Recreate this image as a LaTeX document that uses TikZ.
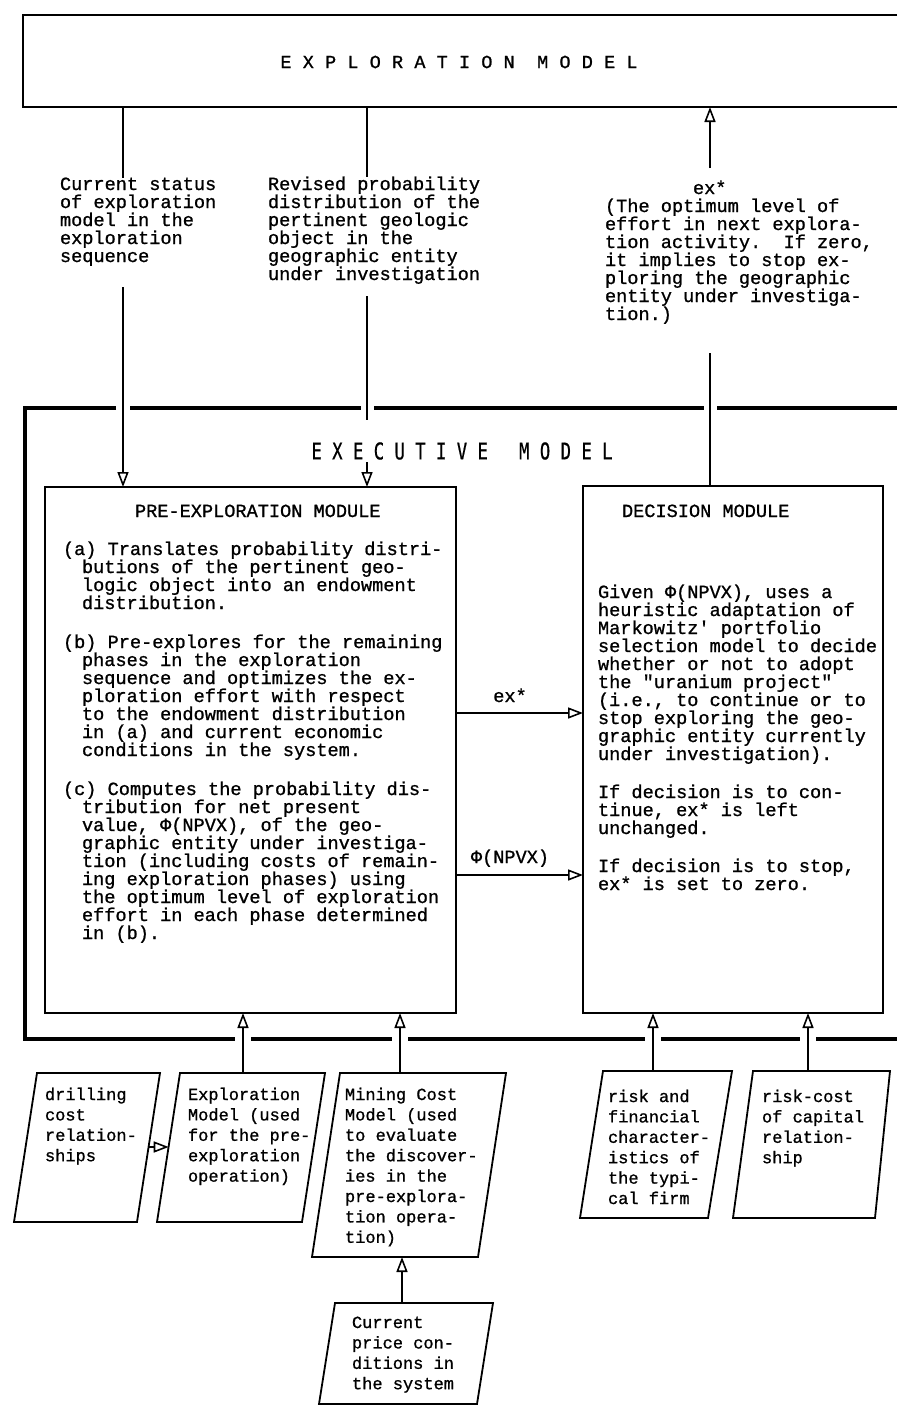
\documentclass[tikz,border=0pt]{standalone}
\usepackage{fontspec}
\usetikzlibrary{arrows.meta}
\newfontfamily\twfam[FakeBold=1.0]{Liberation Mono}
\newfontfamily\gothfam[FakeStretch=0.75,FakeBold=0.6]{DejaVu Sans Mono}
\newcommand\upfont{\twfam\fontsize{18.6pt}{18pt}\selectfont\frenchspacing}
\newcommand\lowfont{\twfam\fontsize{17pt}{20.4pt}\selectfont\frenchspacing}
\newcommand\tblk[2]{\parbox[t]{#1}{\raggedright #2}}
\newcommand\hi{\hspace*{19pt}}
\lineskiplimit=-50pt
\lineskip=0pt
\begin{document}
\begin{tikzpicture}[x=1pt,y=-1pt,
  tx/.style={anchor=base west, inner sep=0pt, outer sep=0pt, font=\upfont},
  lt/.style={anchor=base west, inner sep=0pt, outer sep=0pt, font=\lowfont},
  conn/.style={line width=1.7pt},
  arr/.style={line width=1.7pt, -{Triangle[open,length=15pt,width=11pt,line width=1.6pt]}},
  frameline/.style={line width=3.4pt},
  boxst/.style={draw, line width=1.9pt, inner sep=0pt, outer sep=0pt, anchor=north west},
  paral/.style={draw, line width=1.8pt, line join=miter}
]
\fill[white] (0,0) rectangle (897,1408);
\useasboundingbox (0,0) rectangle (897,1408);

% ---------- Exploration model (top) ----------
\draw[line width=2.4pt] (897,15) -- (23,15) -- (23,107) -- (897,107);
\node[inner sep=0pt, font=\upfont] (expltitle) at (459,62) {E X P L O R A T I O N\ \ M O D E L};
\coordinate (e1) at (123,107);
\coordinate (e2) at (367,107);
\coordinate (e3) at (710,107);

% ---------- labels under the exploration model ----------
\node[tx] (lab1) at (60,190) {\tblk{170pt}{Current status\\of exploration\\model in the\\exploration\\sequence}};
\node[tx] (lab2) at (268,190) {\tblk{240pt}{Revised probability\\distribution of the\\pertinent geologic\\object in the\\geographic entity\\under investigation}};
\node[tx] (lab3) at (605,194) {\tblk{290pt}{\hspace*{88pt}ex*\\(The optimum level of\\effort in next explora-\\tion activity.~ If zero,\\it implies to stop ex-\\ploring the geographic\\entity under investiga-\\tion.)}};

% ---------- executive model frame ----------
\draw[frameline] (116,408) -- (25,408) -- (25,1039) -- (235,1039);
\draw[frameline] (130,408) -- (361,408);
\draw[frameline] (374,408) -- (704,408);
\draw[frameline] (717,408) -- (897,408);
\draw[frameline] (251,1039) -- (392,1039);
\draw[frameline] (408,1039) -- (645,1039);
\draw[frameline] (661,1039) -- (800,1039);
\draw[frameline] (816,1039) -- (897,1039);
\node[inner sep=0pt, font=\gothfam\fontsize{23pt}{23pt}\selectfont] (exectitle) at (462,451) {E X E C U T I V E\ \ \ M O D E L};

% ---------- modules ----------
\node[boxst, minimum width=411pt, minimum height=526pt] (pre) at (45,487) {};
\node[boxst, minimum width=300pt, minimum height=527pt] (dec) at (583,486) {};

\node[tx] (pretitle) at (135,517) {PRE-EXPLORATION MODULE};
\node[tx] (pretext) at (63,555) {\tblk{392pt}{%
(a) Translates probability distri-\\
\hi butions of the pertinent geo-\\
\hi logic object into an endowment\\
\hi distribution.\\[21pt]
(b) Pre-explores for the remaining\\
\hi phases in the exploration\\
\hi sequence and optimizes the ex-\\
\hi ploration effort with respect\\
\hi to the endowment distribution\\
\hi in (a) and current economic\\
\hi conditions in the system.\\[21pt]
(c) Computes the probability dis-\\
\hi tribution for net present\\
\hi value, Φ(NPVX), of the geo-\\
\hi graphic entity under investiga-\\
\hi tion (including costs of remain-\\
\hi ing exploration phases) using\\
\hi the optimum level of exploration\\
\hi effort in each phase determined\\
\hi in (b).}};

\node[tx] (dectitle) at (622,517) {DECISION MODULE};
\node[tx] (dectext) at (598,598) {\tblk{300pt}{%
Given Φ(NPVX), uses a\\
heuristic adaptation of\\
Markowitz' portfolio\\
selection model to decide\\
whether or not to adopt\\
the "uranium project"\\
(i.e., to continue or to\\
stop exploring the geo-\\
graphic entity currently\\
under investigation).\\[20pt]
If decision is to con-\\
tinue, ex* is left\\
unchanged.\\[20pt]
If decision is to stop,\\
ex* is set to zero.}};

% ---------- connectors at the top ----------
\draw[conn] (e1) -- (lab1.north -| e1);
\coordinate (c1s) at (123,287);
\draw[arr] (c1s) -- (pre.north -| c1s);

\draw[conn] (e2) -- (lab2.north -| e2);
\coordinate (c2s) at (367,296);
\coordinate (c2e) at (367,420);
\draw[conn] (c2s) -- (c2e);
\coordinate (c2t) at (367,462);
\draw[arr] (c2t) -- (pre.north -| c2t);

\coordinate (c3s) at (710,168);
\draw[arr] (c3s) -- (e3);
\coordinate (c3l) at (710,353);
\draw[conn] (c3l) -- (dec.north -| c3l);

% ---------- module to module ----------
\coordinate (yex) at (0,713);
\coordinate (yphi) at (0,875);
\draw[arr] (pre.east |- yex) -- (dec.west |- yex);
\draw[arr] (pre.east |- yphi) -- (dec.west |- yphi);
\node[anchor=base, inner sep=0pt, font=\upfont] (exlab) at (510,702) {ex*};
\node[anchor=base, inner sep=0pt, font=\upfont] (philab) at (510,863) {Φ(NPVX)};

% ---------- input parallelograms ----------
\draw[paral] (37,1073) -- (160,1073) -- (137,1222) -- (14,1222) -- cycle;
\draw[paral] (180,1073) -- (325,1073) -- (302,1222) -- (157,1222) -- cycle;
\draw[paral] (340,1073) -- (506,1073) -- (478,1257) -- (312,1257) -- cycle;
\draw[paral] (335,1303) -- (493,1303) -- (477,1404) -- (319,1404) -- cycle;
\draw[paral] (603,1071) -- (732,1071) -- (708,1218) -- (580,1218) -- cycle;
\draw[paral] (753,1071) -- (890,1071) -- (875,1218) -- (733,1218) -- cycle;

\node[lt] (p1txt) at (45,1100) {\tblk{120pt}{drilling\\cost\\relation-\\ships}};
\node[lt] (p2txt) at (188,1100) {\tblk{140pt}{Exploration\\Model (used\\for the pre-\\exploration\\operation)}};
\node[lt] (p3txt) at (345,1100) {\tblk{150pt}{Mining Cost\\Model (used\\to evaluate\\the discover-\\ies in the\\pre-explora-\\tion opera-\\tion)}};
\node[lt] (p4txt) at (352,1328) {\tblk{140pt}{Current\\price con-\\ditions in\\the system}};
\node[lt] (p5txt) at (608,1102) {\tblk{130pt}{risk and\\financial\\character-\\istics of\\the typi-\\cal firm}};
\node[lt] (p6txt) at (762,1102) {\tblk{130pt}{risk-cost\\of capital\\relation-\\ship}};

\coordinate (p1r) at (148.7,1147);
\coordinate (p2l) at (168.7,1147);
\coordinate (p2t) at (243,1073);
\coordinate (p3t) at (400,1073);
\coordinate (p3b) at (402,1257);
\coordinate (p4t) at (402,1303);
\coordinate (p5t) at (653,1071);
\coordinate (p6t) at (808,1071);

\draw[arr] (p1r) -- (p2l);
\draw[arr] (p2t) -- (pre.south -| p2t);
\draw[arr] (p3t) -- (pre.south -| p3t);
\draw[arr] (p4t) -- (p3b);
\draw[arr] (p5t) -- (dec.south -| p5t);
\draw[arr] (p6t) -- (dec.south -| p6t);
\end{tikzpicture}
\end{document}
